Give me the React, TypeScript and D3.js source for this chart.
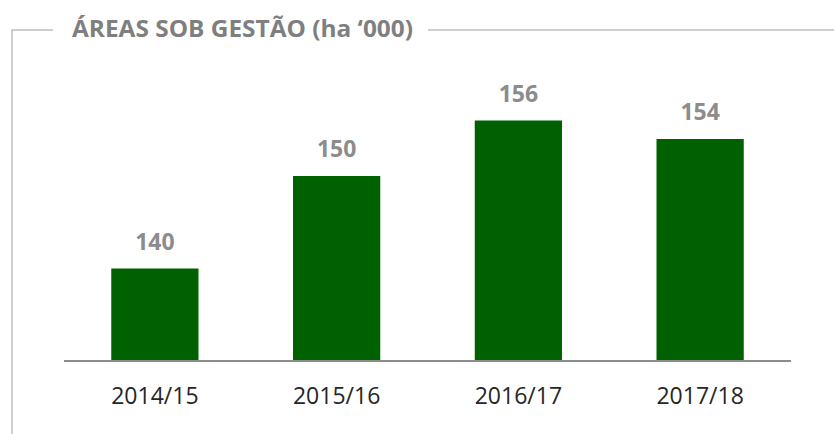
import React from 'react';
import * as d3 from 'd3';

const width = 834;
const height = 434;
const margin = { top: 84, right: 43, bottom: 73, left: 64 };

const categories = ['2014/15', '2015/16', '2016/17', '2017/18'];
const values = [140, 150, 156, 154];
const title = 'ÁREAS SOB GESTÃO (ha ‘000)';

const barColor = '#006100';
const labelGray = '#8c8c8c';
const font = "'Open Sans', sans-serif";

const App = () => {
  const xScale = d3
    .scaleBand()
    .domain(categories)
    .range([margin.left, width - margin.right])
    .paddingInner(0.52)
    .paddingOuter(0.26);

  // axis baseline sits at 130, not zero
  const yScale = d3
    .scaleLinear()
    .domain([130, 160])
    .range([height - margin.bottom, height - margin.bottom - 30 * 9.25]);

  const baseY = yScale(130);

  return (
    <div style={{ position: 'absolute', left: 0, top: 0 }}>
      <svg width={width} height={height} style={{ display: 'block', background: '#fff' }}>
        {/* frame around the title */}
        <path d={`M12,${height} V30 H53`} fill="none" stroke="#bfbfbf" strokeWidth={1.5} />
        <line x1={428} x2={width} y1={30} y2={30} stroke="#bfbfbf" strokeWidth={1.5} />
        <text
          x={72}
          y={37}
          fontFamily={font}
          fontWeight="bold"
          fontSize={23}
          textLength={341}
          lengthAdjust="spacingAndGlyphs"
          fill="#7f7f7f"
        >
          {title}
        </text>

        {categories.map((c, i) => (
          <rect
            key={c}
            x={xScale(c)}
            y={yScale(values[i])}
            width={xScale.bandwidth()}
            height={baseY - yScale(values[i])}
            fill={barColor}
          />
        ))}

        {categories.map((c, i) => (
          <text
            key={'v' + c}
            x={(xScale(c) as number) + xScale.bandwidth() / 2}
            y={yScale(values[i]) - 19}
            textAnchor="middle"
            fontFamily={font}
            fontWeight="bold"
            fontSize={23}
            fill={labelGray}
          >
            {values[i]}
          </text>
        ))}

        <line
          x1={margin.left}
          x2={width - margin.right}
          y1={baseY}
          y2={baseY}
          stroke="#8c8c8c"
          strokeWidth={2}
        />

        {categories.map(c => (
          <text
            key={'c' + c}
            x={(xScale(c) as number) + xScale.bandwidth() / 2}
            y={baseY + 43}
            textAnchor="middle"
            fontFamily={font}
            fontSize={23}
            fill="#262626"
          >
            {c}
          </text>
        ))}
      </svg>
    </div>
  );
};

export default App;
